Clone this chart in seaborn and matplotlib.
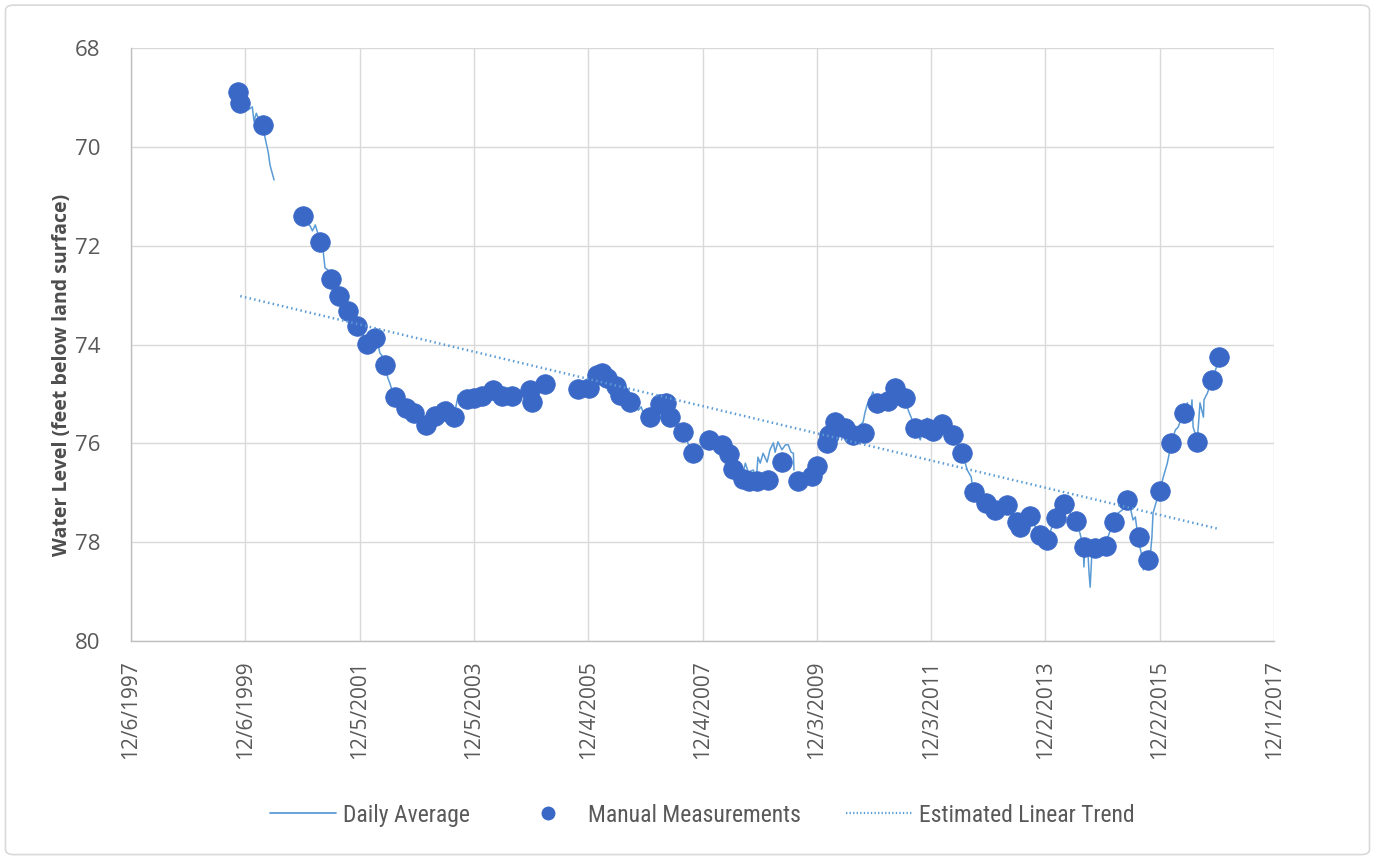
import matplotlib
matplotlib.use("Agg")
import matplotlib.pyplot as plt
from matplotlib import font_manager
from matplotlib.lines import Line2D
from matplotlib.patches import FancyBboxPatch
import seaborn as sns
import pandas as pd

# ---- data (decimal years, feet below land surface) ----
manual_year = [1999.80, 1999.84, 2000.24, 2000.93, 2001.24, 2001.43, 2001.57, 2001.73, 2001.88, 2002.05,
               2002.20, 2002.37, 2002.55, 2002.74, 2002.88, 2003.09, 2003.25, 2003.42, 2003.57, 2003.80,
               2003.92, 2004.06, 2004.25, 2004.41, 2004.59, 2004.91, 2004.94, 2005.17, 2005.74, 2005.93,
               2006.08, 2006.16, 2006.25, 2006.41, 2006.48, 2006.66, 2007.01, 2007.18, 2007.29, 2007.36,
               2007.58, 2007.76, 2008.04, 2008.26, 2008.38, 2008.46, 2008.63, 2008.73, 2008.87, 2009.06,
               2009.31, 2009.59, 2009.83, 2009.92, 2010.10, 2010.13, 2010.24, 2010.42, 2010.56, 2010.75,
               2010.97, 2011.17, 2011.29, 2011.47, 2011.64, 2011.85, 2011.96, 2012.11, 2012.30, 2012.46,
               2012.66, 2012.88, 2013.04, 2013.24, 2013.42, 2013.48, 2013.65, 2013.82, 2013.95, 2014.11,
               2014.24, 2014.46, 2014.60, 2014.79, 2014.97, 2015.11, 2015.35, 2015.55, 2015.71, 2015.93,
               2016.12, 2016.34, 2016.57, 2016.83, 2016.96]
manual_level = [68.88, 69.12, 69.56, 71.40, 71.92, 72.68, 73.02, 73.33, 73.62, 73.99,
                73.86, 74.41, 75.07, 75.29, 75.39, 75.63, 75.44, 75.34, 75.46, 75.11,
                75.09, 75.05, 74.93, 75.05, 75.05, 74.92, 75.16, 74.80, 74.90, 74.88,
                74.62, 74.57, 74.68, 74.84, 75.02, 75.16, 75.46, 75.20, 75.18, 75.46,
                75.78, 76.20, 75.93, 76.03, 76.21, 76.52, 76.72, 76.77, 76.76, 76.75,
                76.37, 76.77, 76.67, 76.45, 76.00, 75.83, 75.56, 75.69, 75.83, 75.79,
                75.19, 75.14, 74.88, 75.09, 75.69, 75.69, 75.75, 75.61, 75.83, 76.20,
                76.98, 77.20, 77.35, 77.25, 77.60, 77.69, 77.47, 77.85, 77.95, 77.51,
                77.23, 77.58, 78.10, 78.12, 78.07, 77.60, 77.14, 77.90, 78.36, 76.96,
                76.00, 75.38, 75.98, 74.72, 74.25]

# daily average record, split where the logger had gaps
daily_a_year = [1999.80, 1999.91, 1999.98, 2000.05, 2000.08, 2000.12, 2000.17, 2000.24, 2000.27, 2000.33,
                2000.36, 2000.43]
daily_a_level = [68.91, 69.13, 69.25, 69.19, 69.48, 69.32, 69.46, 69.56, 69.80, 70.12,
                 70.37, 70.67]

daily_b_year = [2000.92, 2000.99, 2001.06, 2001.10, 2001.15, 2001.24, 2001.29, 2001.32, 2001.37, 2001.43,
                2001.51, 2001.58, 2001.65, 2001.72, 2001.79, 2001.88, 2001.97, 2002.06, 2002.09, 2002.13,
                2002.20, 2002.25, 2002.28, 2002.32, 2002.37, 2002.42, 2002.46, 2002.49, 2002.55, 2002.63,
                2002.74, 2002.81, 2002.88, 2002.98, 2003.09, 2003.16, 2003.19, 2003.25, 2003.30, 2003.35,
                2003.42, 2003.47, 2003.51, 2003.56, 2003.61, 2003.65, 2003.68, 2003.72, 2003.77, 2003.81,
                2003.86, 2003.93, 2004.00, 2004.07, 2004.14, 2004.21, 2004.24, 2004.31]
daily_b_level = [71.40, 71.52, 71.60, 71.70, 71.58, 71.93, 72.13, 72.45, 72.49, 72.67,
                 72.90, 73.02, 73.16, 73.34, 73.46, 73.63, 73.77, 73.99, 74.15, 73.91,
                 73.85, 74.01, 74.17, 74.23, 74.41, 74.68, 74.80, 74.92, 75.06, 75.16,
                 75.28, 75.35, 75.39, 75.53, 75.63, 75.43, 75.30, 75.45, 75.22, 75.37,
                 75.35, 75.16, 75.28, 75.47, 75.26, 75.02, 75.20, 75.08, 75.16, 75.10,
                 75.04, 75.08, 75.04, 75.06, 75.00, 74.96, 74.94, 74.98]

daily_c_year = [2005.73, 2005.83, 2005.92, 2006.01, 2006.08, 2006.17, 2006.25, 2006.34, 2006.41, 2006.48,
                2006.57, 2006.66, 2006.74, 2006.80, 2006.85, 2006.90, 2006.95, 2007.01, 2007.09, 2007.18,
                2007.29, 2007.36, 2007.44, 2007.50, 2007.53, 2007.58, 2007.64, 2007.67, 2007.72, 2007.76]
daily_c_level = [74.90, 74.90, 74.88, 74.74, 74.62, 74.58, 74.68, 74.76, 74.84, 75.02,
                 75.08, 75.16, 75.22, 75.33, 75.26, 75.43, 75.39, 75.47, 75.33, 75.20,
                 75.18, 75.47, 75.57, 75.69, 75.61, 75.79, 75.87, 76.01, 76.09, 76.20]

daily_d_year = [2008.04, 2008.14, 2008.26, 2008.37, 2008.46, 2008.53, 2008.58, 2008.61, 2008.67, 2008.72,
                2008.81, 2008.86, 2008.89, 2008.93, 2008.98, 2009.05, 2009.10, 2009.16, 2009.19, 2009.24,
                2009.31, 2009.37, 2009.42, 2009.47, 2009.51, 2009.52]
daily_d_level = [75.93, 75.97, 76.03, 76.22, 76.52, 76.62, 76.58, 76.72, 76.40, 76.58,
                 76.54, 76.76, 76.28, 76.40, 76.20, 76.38, 76.13, 75.99, 76.18, 75.97,
                 76.13, 76.03, 76.03, 76.18, 76.20, 76.54]

daily_e_year = [2010.08, 2010.15, 2010.24, 2010.33, 2010.42, 2010.45, 2010.50, 2010.56, 2010.63, 2010.68,
                2010.73, 2010.76, 2010.80, 2010.85, 2010.90, 2010.97, 2011.06, 2011.17, 2011.24, 2011.29,
                2011.38, 2011.46, 2011.52, 2011.59, 2011.64, 2011.73, 2011.78, 2011.85, 2011.90, 2011.99,
                2012.11, 2012.20, 2012.30, 2012.37, 2012.46, 2012.51, 2012.55, 2012.62, 2012.65, 2012.74,
                2012.81, 2012.88, 2012.95, 2013.04, 2013.13, 2013.18, 2013.25, 2013.34, 2013.42, 2013.48,
                2013.56, 2013.65, 2013.74, 2013.81, 2013.88, 2013.95, 2014.00, 2014.05, 2014.11, 2014.17,
                2014.23, 2014.28, 2014.35, 2014.40, 2014.45, 2014.52, 2014.58, 2014.59, 2014.61, 2014.66,
                2014.68, 2014.70, 2014.73, 2014.79, 2014.87, 2014.96, 2015.01, 2015.10, 2015.19, 2015.26,
                2015.35, 2015.40, 2015.45, 2015.49, 2015.54, 2015.57, 2015.61, 2015.63, 2015.66, 2015.71,
                2015.75, 2015.78, 2015.80, 2015.85, 2015.92, 2015.98, 2016.05, 2016.12, 2016.19, 2016.24,
                2016.33, 2016.40, 2016.45, 2016.48, 2016.50, 2016.57, 2016.59, 2016.62, 2016.68, 2016.69,
                2016.75, 2016.83, 2016.89, 2016.96]
daily_e_level = [75.99, 75.69, 75.57, 75.73, 75.69, 75.87, 75.79, 75.67, 75.77, 75.63,
                 75.57, 75.39, 75.22, 75.12, 74.96, 75.18, 75.16, 75.14, 75.00, 74.88,
                 74.96, 75.08, 75.33, 75.53, 75.69, 75.93, 75.69, 75.49, 75.63, 75.73,
                 75.61, 75.69, 75.83, 75.99, 76.20, 76.38, 76.54, 76.68, 76.98, 77.09,
                 77.15, 77.21, 77.27, 77.35, 77.29, 77.21, 77.25, 77.45, 77.61, 77.69,
                 77.55, 77.47, 77.69, 77.85, 77.96, 77.96, 77.79, 77.63, 77.51, 77.35,
                 77.23, 77.35, 77.41, 77.51, 77.59, 77.81, 78.10, 78.50, 78.10, 78.20,
                 78.62, 78.91, 78.22, 78.12, 78.12, 78.10, 77.90, 77.61, 77.41, 77.35,
                 77.15, 77.29, 77.55, 77.49, 77.92, 78.10, 78.30, 78.56, 78.42, 78.36,
                 78.30, 77.90, 77.41, 77.21, 76.94, 76.68, 76.40, 75.99, 75.73, 75.67,
                 75.37, 75.18, 75.53, 75.12, 75.67, 75.93, 75.67, 75.18, 75.47, 75.12,
                 74.98, 74.70, 74.52, 74.25]

trend_year = [1999.84, 2016.94]
trend_level = [73.02, 77.73]

tick_dates = ["1997-12-06", "1999-12-06", "2001-12-05", "2003-12-05", "2005-12-04", "2007-12-04",
              "2009-12-03", "2011-12-03", "2013-12-02", "2015-12-02", "2017-12-01"]
tick_labels = ["12/6/1997", "12/6/1999", "12/5/2001", "12/5/2003", "12/4/2005", "12/4/2007",
               "12/3/2009", "12/3/2011", "12/2/2013", "12/2/2015", "12/1/2017"]
y_ticks = [68, 70, 72, 74, 76, 78, 80]


def to_date(years):
    out = []
    for y in years:
        start = pd.Timestamp(int(y), 1, 1)
        length = (pd.Timestamp(int(y) + 1, 1, 1) - start).days
        out.append(start + pd.Timedelta(days=(y - int(y)) * length))
    return out


segments = [(daily_a_year, daily_a_level), (daily_b_year, daily_b_level), (daily_c_year, daily_c_level),
            (daily_d_year, daily_d_level), (daily_e_year, daily_e_level)]
daily = pd.concat([pd.DataFrame({"date": to_date(yr), "level": lv, "seg": i})
                   for i, (yr, lv) in enumerate(segments)], ignore_index=True)
manual = pd.DataFrame({"date": to_date(manual_year), "level": manual_level})
trend = pd.DataFrame({"date": to_date(trend_year), "level": trend_level})

sns.set_theme(style="whitegrid")


def pick_font(names):
    for n in names:
        try:
            font_manager.findfont(n, fallback_to_default=False)
            return n
        except ValueError:
            pass
    return "DejaVu Sans"


main_font = pick_font(["Open Sans", "Lato"])
legend_font = pick_font(["Liberation Sans Narrow", "Roboto Condensed", "Open Sans"])
plt.rcParams["font.family"] = [main_font, "DejaVu Sans"]

line_blue = "#5B9BD5"
dot_blue = "#3A68C6"
text_grey = "#595959"

fig = plt.figure(figsize=(13.75, 8.58), dpi=100)
fig.patches.append(FancyBboxPatch((0.004, 0.004), 0.992, 0.990, boxstyle="round,pad=0,rounding_size=0.006",
                                  transform=fig.transFigure, facecolor="white", edgecolor="#D9D9D9",
                                  linewidth=1.2, zorder=-10))
ax = fig.add_axes([0.0953, 0.2529, 0.8313, 0.6911])
ax.set_facecolor("white")

sns.lineplot(data=daily, x="date", y="level", units="seg", estimator=None, sort=False,
             color=line_blue, linewidth=1.1, ax=ax, zorder=2, legend=False)
sns.scatterplot(data=manual, x="date", y="level", s=200, color=dot_blue, edgecolor=dot_blue,
                linewidth=0.5, ax=ax, zorder=3, legend=False)
sns.lineplot(data=trend, x="date", y="level", color=line_blue, linewidth=1.8,
             linestyle=(0, (0.6, 1.3)), ax=ax, zorder=4, legend=False)

ax.set_ylim(80, 68)
ax.set_yticks(y_ticks)
ax.set_yticklabels([str(v) for v in y_ticks])
ax.set_xlim(pd.Timestamp(tick_dates[0]), pd.Timestamp(tick_dates[-1]))
ax.set_xticks([pd.Timestamp(d) for d in tick_dates])
ax.set_xticklabels(tick_labels, rotation=90)

ax.grid(True, color="#D9D9D9", linewidth=1.0)
for side in ["top", "right"]:
    ax.spines[side].set_visible(False)
for side in ["left", "bottom"]:
    ax.spines[side].set_color("#BFBFBF")
    ax.spines[side].set_linewidth(1.0)
ax.tick_params(axis="x", length=0, pad=14, labelsize=15, labelcolor=text_grey)
ax.tick_params(axis="y", length=0, pad=22, labelsize=16, labelcolor=text_grey)

ax.set_xlabel("")
ax.set_ylabel("Water Level (feet below land surface)", fontsize=14, fontweight="bold", color="#4D4D4D")
ax.yaxis.set_label_coords(-0.0516, 0.449)

handles = [Line2D([], [], color=line_blue, linewidth=1.3),
           Line2D([], [], linestyle="none", marker="o", markersize=9, color=dot_blue),
           Line2D([], [], color=line_blue, linewidth=1.6, linestyle=(0, (0.6, 1.0)))]
fig.legend(handles, ["Daily Average", "Manual Measurements", "Estimated Linear Trend"],
           loc="center", bbox_to_anchor=(0.511, 0.05), ncol=3, frameon=False,
           handlelength=2.8, handletextpad=0.3, columnspacing=1.9,
           prop={"family": legend_font, "size": 17}, labelcolor=text_grey)

fig.savefig("out.png", dpi=100)
